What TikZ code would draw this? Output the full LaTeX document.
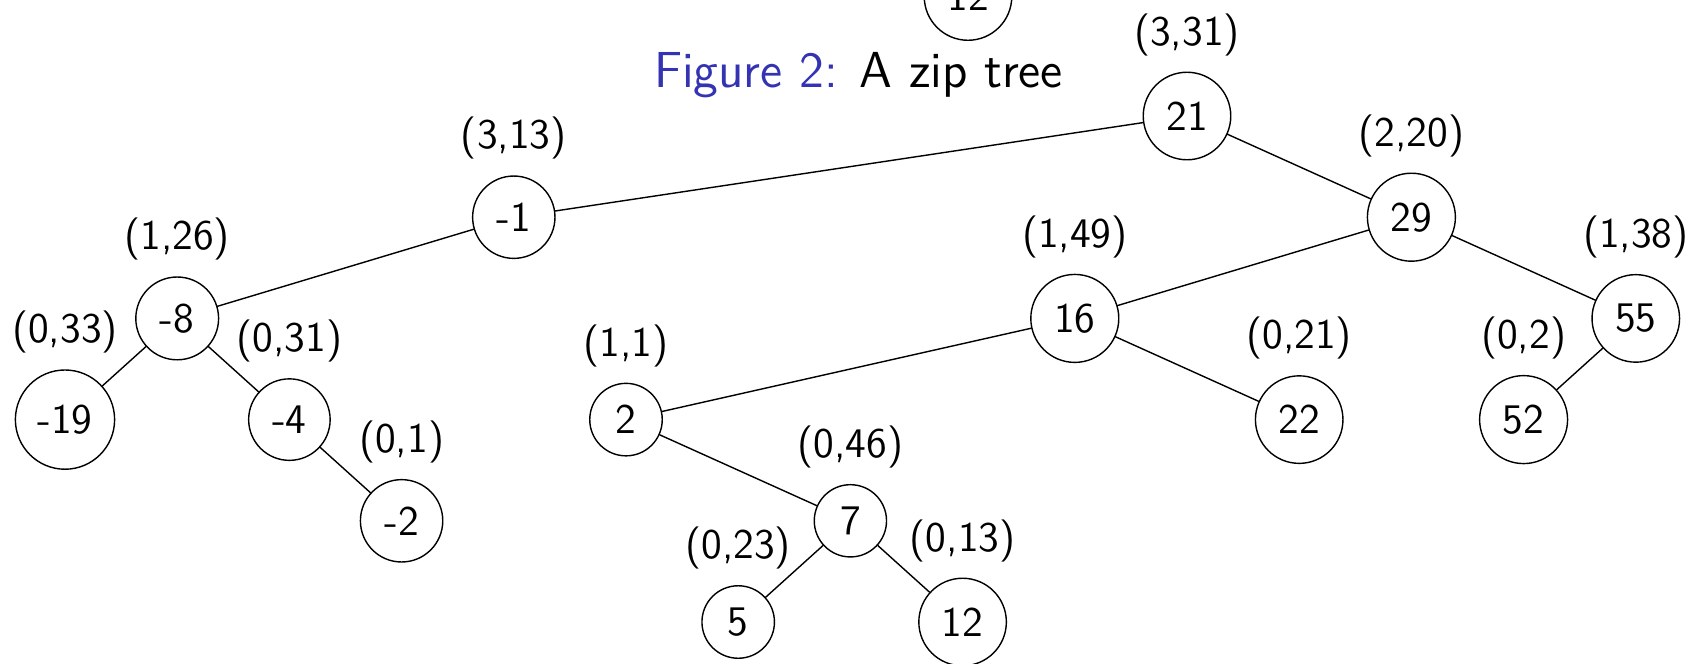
\documentclass[tikz,border=0pt]{standalone}
\usepackage{xcolor}
\definecolor{figblue}{RGB}{51,51,179}
\tikzset{
	key/.style={circle,draw,inner sep=3.8pt,font=\sffamily\fontsize{12}{14}\selectfont},
	rk/.style={font=\sffamily\fontsize{12}{14}\selectfont,label distance=1pt},
}
\begin{document}
\begin{tikzpicture}[line cap=round,line join=round]
	\useasboundingbox (0,0) rectangle (17,6.63);
	\node[key] (top) at (9.68,6.665) {12};
	\node[anchor=base,font=\sffamily\fontsize{14.4}{17}\selectfont] (cap) at (8.585,5.76) {{\color{figblue}Figure 2:} A zip tree};
	\begin{scope}[shift={(0.65,0.41)},x=1.122cm,y=1.012cm]
	\node[key,label={[rk]above:{(3,31)}}] (n21) at (10,5) {21};
	\node[key,label={[rk]above:{(3,13)}}] (m1) at (4,4) {-1};
	\node[key,label={[rk]above:{(2,20)}}] (n29) at (12,4) {29};
	\node[key,label={[rk]above:{(1,26)}}] (m8) at (1,3) {-8};
	\node[key,label={[rk]above:{(1,49)}}] (n16) at (9,3) {16};
	\node[key,label={[rk]above:{(1,38)}}] (n55) at (14,3) {55};
	\node[key,label={[rk]above:{(0,33)}}] (m19) at (0,2) {-19};
	\node[key,label={[rk]above:{(0,31)}}] (m4) at (2,2) {-4};
	\node[key,label={[rk]above:{(1,1)}}] (n2) at (5,2) {2};
	\node[key,label={[rk]above:{(0,21)}}] (n22) at (11,2) {22};
	\node[key,label={[rk]above:{(0,2)}}] (n52) at (13,2) {52};
	\node[key,label={[rk]above:{(0,1)}}] (m2) at (3,1) {-2};
	\node[key,label={[rk]above:{(0,46)}}] (n7) at (7,1) {7};
	\node[key,label={[rk]above:{(0,23)}}] (n5) at (6,0) {5};
	\node[key,label={[rk]above:{(0,13)}}] (n12) at (8,0) {12};
	\end{scope}
	\draw (n21)--(m1) (n21)--(n29) (m1)--(m8) (m8)--(m19) (m8)--(m4) (m4)--(m2);
	\draw (n29)--(n16) (n29)--(n55) (n55)--(n52) (n16)--(n2) (n16)--(n22);
	\draw (n2)--(n7) (n7)--(n5) (n7)--(n12);
\end{tikzpicture}
\end{document}
